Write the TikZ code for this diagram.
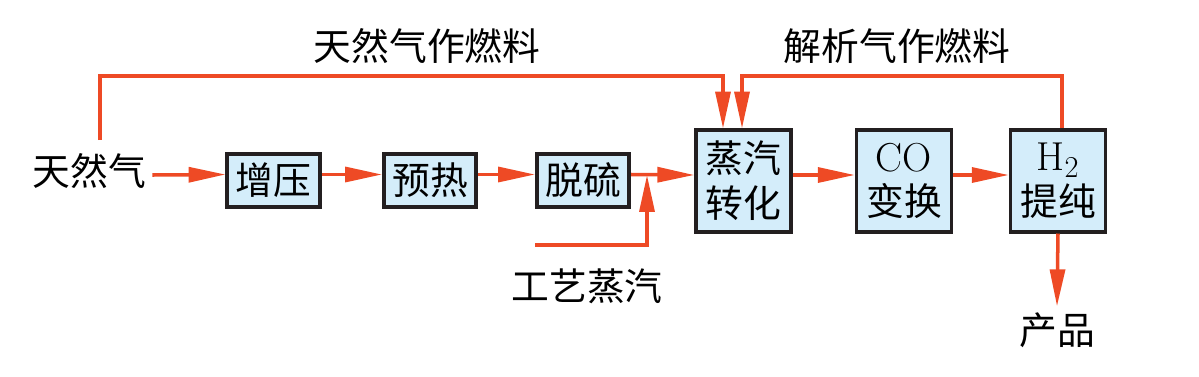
\documentclass[tikz,border=0pt]{standalone}
\usepackage{fontspec}
\newfontfamily\cjk{Noto Sans CJK SC}
\usepackage{tikz}
\usetikzlibrary{arrows.meta}
\definecolor{flowred}{RGB}{238,74,37}
\definecolor{boxfill}{RGB}{212,237,250}
\definecolor{boxline}{RGB}{35,31,32}

\begin{document}
\begin{tikzpicture}[>={Triangle[length=21pt, width=8.5pt]},
  font=\cjk\fontsize{21.5}{25.5}\selectfont,
  box/.style={draw=boxline, fill=boxfill, line width=2pt, inner sep=0pt,
    minimum width=1.85cm, minimum height=1.05cm, align=center},
  tallbox/.style={box, minimum width=1.9cm, minimum height=2.03cm},
  flow/.style={->, draw=flowred, line width=2pt}]
  \useasboundingbox (0,0) rectangle (23.98,7.52);
  % process units
  \node (src) at (1.79,4.10) {天然气};
  \node[box] (zy) at (5.47,3.91) {增压};
  \node[box] (yr) at (8.60,3.91) {预热};
  \node[box] (tl) at (11.66,3.91) {脱硫};
  \node[tallbox] (zq) at (14.87,3.90) {蒸汽\\转化};
  \node[tallbox] (co) at (18.08,3.90) {{\rmfamily\fontsize{23}{25.5}\selectfont CO}\\变换};
  \node[tallbox] (h2) at (21.16,3.90) {{\rmfamily\fontsize{23}{25.5}\selectfont H$_2$}\\提纯};
  \node (st) at (11.74,1.80) {工艺蒸汽};
  \node (pd) at (21.14,0.92) {产品};
  \node (ftl) at (8.54,6.60) {天然气作燃料};
  \node (ftr) at (17.94,6.60) {解析气作燃料};
  \coordinate (top) at (0,6.0);
  \coordinate (fs) at (2.0,4.72);
  \coordinate (st0) at (10.70,2.62);
  \coordinate (jn) at (12.94,4.02);
  % main line
  \draw[flow] ([yshift=-0.8mm]src.east) -- ([yshift=1.2mm]zy.west);
  \draw[flow] ([yshift=1.2mm]zy.east) -- ([yshift=1.2mm]yr.west);
  \draw[flow] ([yshift=1.2mm]yr.east) -- ([yshift=1.2mm]tl.west);
  \draw[flow] ([yshift=1.2mm]tl.east) -- ([yshift=1.2mm]zq.west);
  \draw[flow] ([yshift=1.2mm]zq.east) -- ([yshift=1.2mm]co.west);
  \draw[flow] ([yshift=1.2mm]co.east) -- ([yshift=1.2mm]h2.west);
  \draw[flow] (h2.south) -- (pd.north);
  % steam and fuel
  \draw[flow] (st0) -| (jn);
  \draw[flow] (fs) -- (fs |- top) -| ([xshift=-4.1mm]zq.north);
  \draw[flow] ([xshift=0.8mm]h2.north) -- ([xshift=0.8mm]h2.north |- top)
    -| ([xshift=-0.3mm]zq.north);
\end{tikzpicture}
\end{document}
